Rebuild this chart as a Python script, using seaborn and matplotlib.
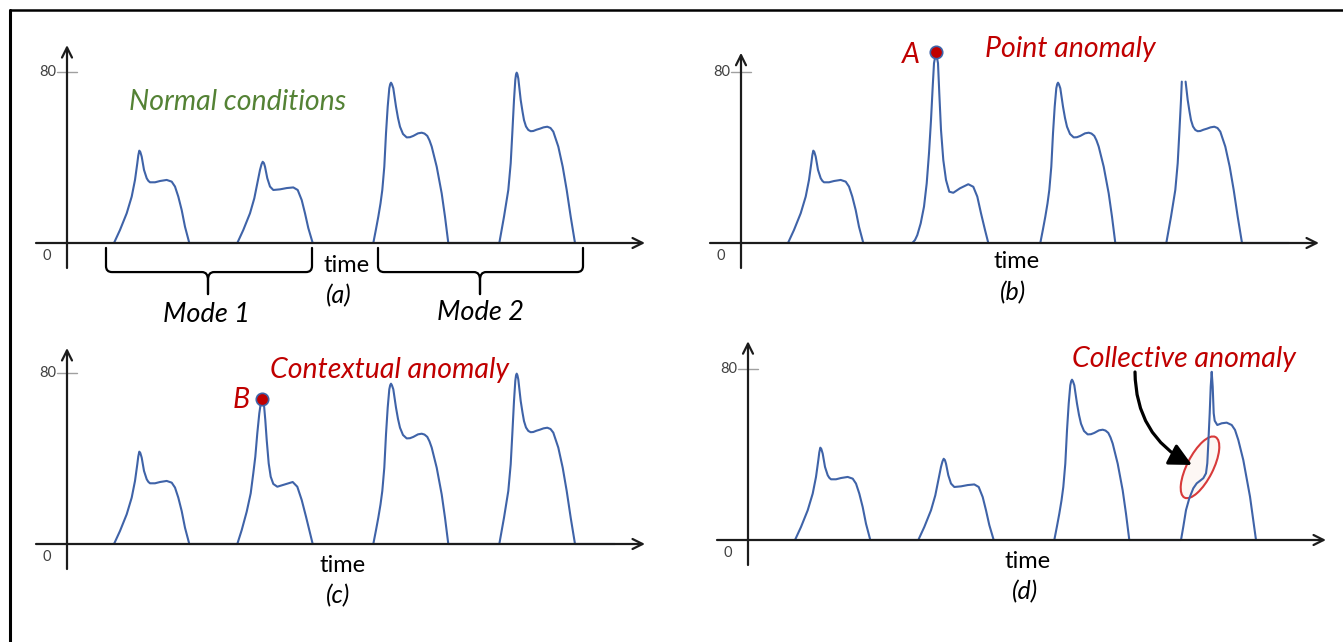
import numpy as np
import pandas as pd
import matplotlib
matplotlib.use("Agg")
import matplotlib.pyplot as plt
import matplotlib.transforms as mtransforms
from matplotlib.patches import Ellipse, PathPatch
from matplotlib.path import Path
from matplotlib.lines import Line2D
import seaborn as sns

# ---------------- data (time units, value units) ----------------
# normal pulse, mode 1, first
P1_T = [47, 53, 59.7, 64.7, 68, 70.3, 71.3, 72.3, 73.3, 74.7, 77, 79.7, 81.3, 83, 88, 93, 99.7, 104.7, 108, 111.3, 114.7, 118, 122.3]
P1_V = [0, 6.1, 13.9, 21.7, 29.5, 37.3, 41.0, 43.2, 42.6, 40.4, 34.2, 30.3, 29.1, 28.4, 28.4, 29.0, 29.5, 28.7, 26.4, 21.7, 15.4, 7.6, 0]
# normal pulse, mode 1, second
P2_T = [170.3, 176.3, 183, 187.3, 190.3, 193, 194.5, 195.7, 196.9, 198, 200.3, 203, 206.3, 213, 219.7, 226.3, 230.7, 234.7, 238, 241.3, 245.7]
P2_V = [0, 6.1, 13.9, 20.9, 27.9, 34.2, 36.8, 38.0, 37.4, 35.7, 30.3, 26.4, 24.8, 25.1, 25.7, 26.0, 24.8, 20.1, 13.9, 7.0, 0]
# normal pulse, mode 2, first
P3_T = [306.3, 309, 311.3, 313.5, 315.3, 317.3, 319, 320.7, 322.3, 323.2, 324, 324.9, 326.3, 329, 331, 333, 336, 339.7, 343, 346.3, 351, 354.7, 357.5, 360.3, 362.5, 364.7, 369.7, 374.7, 378, 381.3]
P3_V = [0, 6.5, 12.3, 18.5, 24.8, 35.7, 51.3, 63.8, 72.4, 74.3, 75.0, 74.3, 72.4, 63.8, 58.5, 54.4, 51.0, 49.4, 49.5, 50.1, 51.3, 51.6, 51.2, 50.1, 48.0, 45.1, 35.7, 23.2, 12.3, 0]
# normal pulse, mode 2, second
P4_T = [432.3, 437, 441.3, 443.7, 445.3, 447, 448.3, 449, 449.7, 450.4, 451.3, 453.7, 455.5, 457, 459, 461.3, 463.7, 466.3, 469.5, 473, 476.5, 480.3, 483.5, 486.3, 491.3, 495.7, 499.7, 503.7, 508]
P4_V = [0, 12.3, 24.8, 37.3, 51.3, 66.9, 76.3, 78.8, 79.7, 79.0, 77.0, 66.9, 61.5, 57.5, 54.5, 52.9, 52.3, 52.4, 53.0, 53.5, 54.1, 54.4, 53.8, 52.1, 45.1, 35.7, 24.8, 12.3, 0]

# panel (b): point anomaly A
SPIKE_A_T = [171.3, 174, 176.3, 179.7, 183, 185.7, 188, 190, 191.7, 193, 195, 197, 198.3, 200, 202.3, 205, 208.3, 212.3, 219, 227.3, 232.3, 236.3, 240, 244, 247.3]
SPIKE_A_V = [0, 1.4, 3.7, 9.2, 17.0, 27.9, 42.0, 57.5, 73.1, 84.1, 89.2, 84.1, 70.0, 52.9, 38.8, 29.5, 24.0, 23.5, 25.6, 27.5, 26.3, 21.7, 13.9, 6.1, 0]
POINT_A_T, POINT_A_V = [195], [89.5]
P3B_T = [299.3, 302, 304.3, 306.5, 308.3, 310.3, 312, 313.7, 315.3, 316.2, 317, 317.9, 319.3, 322, 324, 326, 329, 332.7, 336, 339.3, 344, 347.7, 350.5, 353.3, 355.5, 357.7, 362.7, 367.7, 371, 374.3]
P4B_LEFT_T = [425.3, 430, 434.3, 436.7, 438.3, 440, 440.8]
P4B_LEFT_V = [0, 12.3, 24.8, 37.3, 51.3, 66.9, 75.5]
P4B_RIGHT_T = [444.6, 446.7, 448.5, 450, 452, 454.3, 456.7, 459.3, 462.5, 466, 469.5, 473.3, 476.5, 479.3, 484.3, 488.7, 492.7, 496.7, 501]
P4B_RIGHT_V = [75.5, 66.9, 61.5, 57.5, 54.5, 52.9, 52.3, 52.4, 53.0, 53.5, 54.1, 54.4, 53.8, 52.1, 45.1, 35.7, 24.8, 12.3, 0]
TAIL_T, TAIL_V = [548], [0]

# panel (c): contextual anomaly B
SPIKE_B_T = [170.3, 174.7, 179.7, 183.7, 186.3, 188.3, 190.3, 192.3, 194, 195.3, 197, 198.3, 199.7, 201.7, 203.7, 206.3, 210.3, 218, 225.7, 230.3, 234.7, 239, 242.3, 245.7]
SPIKE_B_V = [0, 6.5, 15.1, 23.7, 33.1, 40.8, 51.8, 61.1, 66.6, 68.0, 65.0, 58.0, 48.7, 37.7, 31.5, 28.1, 26.8, 27.9, 29.0, 26.8, 20.6, 12.8, 6.5, 0]
POINT_B_T, POINT_B_V = [195], [67.8]

# panel (d): collective anomaly
COLL_T = [433, 435.3, 438, 441.3, 445.3, 448.7, 452, 455.3, 458, 459.3, 460.3, 461.7, 462.7, 463.7, 464.7, 465.7, 466.7, 469.3, 473.7, 478.7, 483.7, 487, 490.3, 495.3, 502, 508]
COLL_V = [0, 6.2, 14.0, 19.5, 24.2, 26.5, 27.7, 28.9, 31.2, 35.9, 45.2, 59.3, 71.7, 78.7, 71.7, 59.3, 55.8, 53.8, 54.6, 54.9, 53.8, 51.5, 46.8, 37.4, 20.3, 0]
COLL_REGION_T, COLL_REGION_V = 452, 34

Y_TICKS = [0, 80]
PANEL_LETTERS = ["(a)", "(b)", "(c)", "(d)"]

# ---------------- style ----------------
sns.set_theme(style="white")
plt.rcParams['font.family'] = ['Lato', 'DejaVu Sans']

LINE_C = "#3F63A8"
AXIS_C = "#1c1c1c"
RED = "#C00000"
GREEN = "#548235"

W, H = 1343, 642
fig = plt.figure(figsize=(W / 100, H / 100), dpi=100)
fig.patch.set_facecolor("white")

PX_T = 1.0
PX_V = 171 / 80
T_MIN, T_MAX = -60, 600
V_MIN, V_MAX = -20, 100


def make_axes(ox, oy):
    left = ox + T_MIN * PX_T
    right = ox + T_MAX * PX_T
    top = oy - V_MAX * PX_V
    bottom = oy - V_MIN * PX_V
    ax = fig.add_axes([left / W, 1 - bottom / H, (right - left) / W, (bottom - top) / H])
    ax.patch.set_alpha(0)
    return ax


def draw_frame(ax, y_top):
    ax.annotate("", xy=(578, 0), xytext=(-31, 0),
                arrowprops=dict(arrowstyle="->", lw=1.6, color=AXIS_C, mutation_scale=18,
                                shrinkA=0, shrinkB=0), annotation_clip=False)
    ax.annotate("", xy=(0, y_top), xytext=(0, -11.7),
                arrowprops=dict(arrowstyle="->", lw=1.6, color=AXIS_C, mutation_scale=18,
                                shrinkA=0, shrinkB=0), annotation_clip=False)
    ax.plot([-10, 10], [Y_TICKS[1], Y_TICKS[1]], color="#a0a0a0", lw=1.0)
    ax.text(-11, Y_TICKS[1], str(Y_TICKS[1]), ha="right", va="center", fontsize=10.5, color="#404040")
    ax.text(-20, -6, str(Y_TICKS[0]), ha="center", va="center", fontsize=10.5, color="#404040")


def draw_signal(ax, segments):
    frames = []
    for i, (t, v) in enumerate(segments):
        frames.append(pd.DataFrame({"time": t, "value": v, "seg": i}))
    df = pd.concat(frames, ignore_index=True)
    sns.lineplot(data=df, x="time", y="value", units="seg", estimator=None, sort=False,
                 color=LINE_C, lw=1.5, ax=ax, legend=False,
                 solid_joinstyle="round", solid_capstyle="round")


def finish(ax):
    ax.set_xlim(T_MIN, T_MAX)
    ax.set_ylim(V_MIN, V_MAX)
    ax.axis("off")


def draw_brace(ax, t0, t1, tc, v_top, v_mid, v_tip):
    r_t = 6
    r_v = 6 / PX_V
    s_v = 8 / PX_V
    for te, sgn in ((t0, 1), (t1, -1)):
        verts = [(te, v_top), (te, v_mid + r_v), (te, v_mid), (te + sgn * r_t, v_mid),
                 (tc - sgn * r_t, v_mid), (tc, v_mid), (tc, v_mid - s_v), (tc, v_tip)]
        codes = [Path.MOVETO, Path.LINETO, Path.CURVE3, Path.CURVE3, Path.LINETO,
                 Path.CURVE3, Path.CURVE3, Path.LINETO]
        ax.add_patch(PathPatch(Path(verts, codes), fill=False, lw=1.6, edgecolor="black",
                               clip_on=False, capstyle="round"))


def ftext(x, y, s, **kw):
    fig.text(x / W, 1 - y / H, s, va="baseline", **kw)


# ---------------- panels ----------------
ax_a = make_axes(67, 243)
draw_frame(ax_a, 92.6)
draw_signal(ax_a, [(P1_T + P2_T, P1_V + P2_V), (P3_T + P4_T, P3_V + P4_V)])
draw_brace(ax_a, 39, 245, 141, -2.3, -13.6, -23.9)
draw_brace(ax_a, 311, 516, 413, -2.3, -13.6, -23.9)
finish(ax_a)

ax_b = make_axes(741, 243)
draw_frame(ax_b, 89.0)
draw_signal(ax_b, [(P1_T + SPIKE_A_T, P1_V + SPIKE_A_V),
                   (P3B_T + P4B_LEFT_T, P3_V + P4B_LEFT_V),
                   (P4B_RIGHT_T + TAIL_T, P4B_RIGHT_V + TAIL_V)])
sns.scatterplot(x=POINT_A_T, y=POINT_A_V, s=80, color=RED, edgecolor=LINE_C, linewidth=1.2,
                ax=ax_b, zorder=5, legend=False)
finish(ax_b)

ax_c = make_axes(67, 544)
draw_frame(ax_c, 91.7)
draw_signal(ax_c, [(P1_T + SPIKE_B_T, P1_V + SPIKE_B_V), (P3_T + P4_T + TAIL_T, P3_V + P4_V + TAIL_V)])
sns.scatterplot(x=POINT_B_T, y=POINT_B_V, s=80, color=RED, edgecolor=LINE_C, linewidth=1.2,
                ax=ax_c, zorder=5, legend=False)
finish(ax_c)

ax_d = make_axes(748, 540)
draw_frame(ax_d, 93.0)
draw_signal(ax_d, [(P1_T + P2_T, P1_V + P2_V), (P3_T + COLL_T, P3_V + COLL_V)])
finish(ax_d)

# ellipse around the collective anomaly (size in pixels, anchored at data point)
anchor = mtransforms.ScaledTranslation(COLL_REGION_T, COLL_REGION_V, ax_d.transData)
ell = Ellipse((0, 0), width=68, height=26, angle=63, transform=mtransforms.Affine2D() + anchor,
              facecolor="#fdf7f4", edgecolor="#D83A3A", lw=1.5, zorder=1, clip_on=False)
ax_d.add_artist(ell)
ax_d.annotate("", xy=(444, 35.1), xytext=(387, 78.6),
              arrowprops=dict(arrowstyle="-|>", connectionstyle="arc3,rad=0.3", lw=2.3,
                              color="black", mutation_scale=34, shrinkA=0, shrinkB=0),
              annotation_clip=False, zorder=6)

# ---------------- texts ----------------
LBL = 20.5
ftext(238, 110, "Normal conditions", ha="center", color=GREEN, fontsize=LBL, style="italic")
ftext(206, 322, "Mode 1", ha="center", color="black", fontsize=19.5, style="italic")
ftext(481, 320, "Mode 2", ha="center", color="black", fontsize=19.5, style="italic")
for (x, y) in [(347, 272), (1017, 268), (343, 572), (1028, 568)]:
    ftext(x, y, "time", ha="center", color="black", fontsize=17)
for (x, y), s in zip([(339, 303), (1013, 300), (338, 603), (1025, 599)], PANEL_LETTERS):
    ftext(x, y, s, ha="center", color="black", fontsize=18, style="italic")
ftext(911, 63, "A", ha="center", color=RED, fontsize=LBL, style="italic")
ftext(985, 57, "Point anomaly", ha="left", color=RED, fontsize=LBL, style="italic")
ftext(241, 408, "B", ha="center", color=RED, fontsize=LBL, style="italic")
ftext(270, 378, "Contextual anomaly", ha="left", color=RED, fontsize=LBL, style="italic")
ftext(1072, 367, "Collective anomaly", ha="left", color=RED, fontsize=LBL, style="italic")

# outer frame
fig.add_artist(Line2D([10 / W, 10 / W], [1 - 10 / H, 0], transform=fig.transFigure, color="black", lw=2.2))
fig.add_artist(Line2D([10 / W, 1], [1 - 10 / H, 1 - 10 / H], transform=fig.transFigure, color="black", lw=1.8))

fig.savefig("out.png", dpi=100, facecolor="white")
